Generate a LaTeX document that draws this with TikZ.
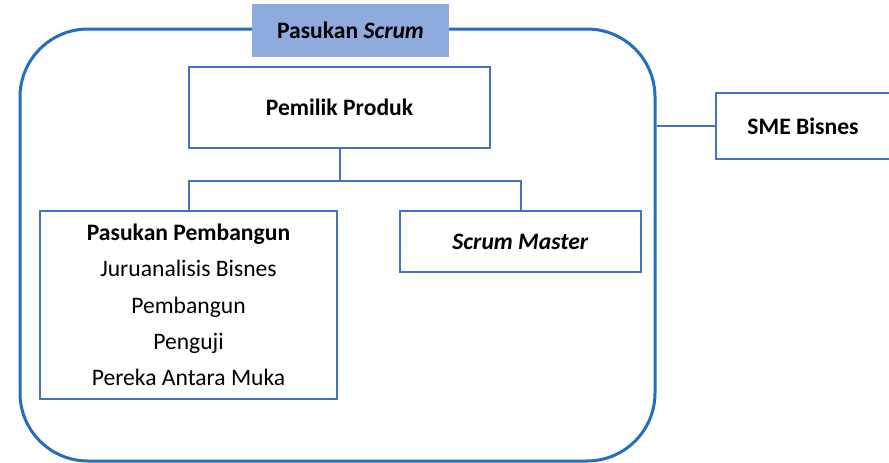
\documentclass[tikz,border=0pt]{standalone}
\usepackage{fontspec}
\setmainfont{Carlito}
\definecolor{boxblue}{HTML}{4472C4}
\definecolor{teamblue}{HTML}{1F70C1}
\definecolor{titlefill}{HTML}{8FAADC}
\begin{document}
\begin{tikzpicture}[x=1pt,y=-1pt,
  box/.style={draw=boxblue, line width=2pt, fill=white, inner sep=0pt,
    font=\fontsize{23.6}{36.25}\selectfont, align=center},
  conn/.style={draw=boxblue, line width=2pt},
  team/.style={draw=teamblue, line width=3pt, rounded corners=68pt, inner sep=0pt},
  titlebox/.style={fill=titlefill, inner sep=0pt, font=\fontsize{23.6}{28}\selectfont}]
\useasboundingbox (0,0) rectangle (889,463);
\node[team, minimum width=635pt, minimum height=432pt] (team) at (337.5,245) {};
\node[titlebox, minimum width=197pt, minimum height=53pt] (title) at (350.5,30.5) {\textbf{Pasukan \textit{Scrum}}};
\node[box, minimum width=301pt, minimum height=81pt] (po) at (339.5,107.5) {\textbf{Pemilik Produk}};
\node[box, minimum width=297pt, minimum height=188pt] (dev) at (188.5,305) {\textbf{Pasukan Pembangun}\\Juruanalisis Bisnes\\Pembangun\\Penguji\\Pereka Antara Muka};
\node[box, minimum width=241pt, minimum height=61pt] (sm) at (520.5,241.5) {\textbf{\textit{Scrum Master}}};
\node[box, minimum width=174pt, minimum height=66pt] (sme) at (803,126) {\textbf{SME Bisnes}};
\draw[conn] (po.south) -- ++(0,32) -| (dev.north);
\draw[conn] (po.south) -- ++(0,32) -| (sm.north);
\draw[conn, line width=2.8pt] (sme.west -| team.east) -- (sme.west);
\end{tikzpicture}
\end{document}
